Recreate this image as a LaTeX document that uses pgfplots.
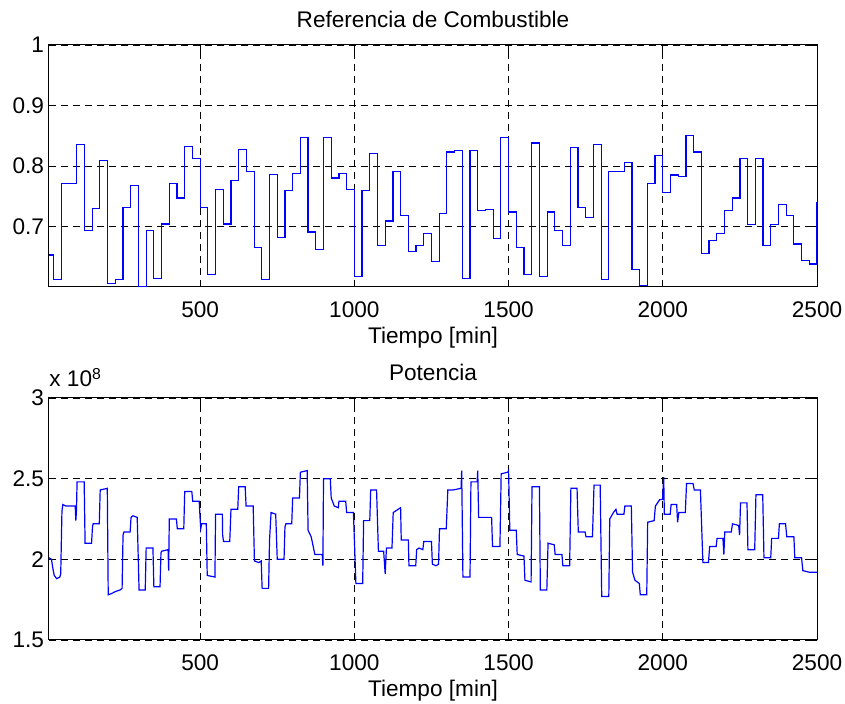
\documentclass[border=0pt]{standalone}
\usepackage{fontspec}
\setmainfont{Liberation Sans}
\usepackage{pgfplots}
\pgfplotsset{compat=1.18}
\definecolor{mblue}{RGB}{0,0,255}

% MATLAB-like subplot look
\pgfplotsset{
  mlab/.style={
    width=384pt, height=121pt, scale only axis,
    xmin=10, xmax=2500,
    xtick={500,1000,...,2500},
    grid=major,
    major grid style={black, line width=0.4pt, dash pattern=on 3.5pt off 2.5pt},
    tick align=inside, major tick length=3.5pt,
    axis line style={black, line width=0.5pt},
    tick style={black, line width=0.4pt},
    /pgf/number format/assume math mode=true,
    /pgf/number format/1000 sep={},
    xlabel={Tiempo [min]},
    xlabel style={at={(axis description cs:0.5,0)}, anchor=center, yshift=-25.5pt},
    xticklabel style={yshift=-4pt},
    yticklabel style={xshift=1pt},
    title style={at={(0.5,1)}, anchor=south, yshift=-1pt},
  }
}

\begin{document}
\begin{tikzpicture}[font=\fontsize{11.3pt}{13pt}\selectfont]
\path[use as bounding box] (-24.5pt,-208.5pt) rectangle (398pt,143.5pt);

\begin{axis}[mlab, at={(0,0)},
  title={Referencia de Combustible},
  ymin=0.6, ymax=1, ytick={0.7,0.8,0.9,1}]
\addplot[mblue, line width=0.6pt, const plot] coordinates {
(10,0.653) (25,0.612) (50,0.771) (100,0.835) (125,0.694) (150,0.730)
(175,0.809) (200,0.606) (225,0.613) (250,0.732) (275,0.768) (300,0.600)
(325,0.694) (350,0.614) (375,0.704) (400,0.771) (425,0.747) (450,0.832)
(475,0.812) (500,0.732) (525,0.620) (550,0.761) (575,0.704) (600,0.776)
(625,0.827) (650,0.791) (675,0.665) (700,0.612) (725,0.786) (750,0.682)
(775,0.759) (800,0.788) (825,0.847) (850,0.691) (875,0.662) (900,0.847)
(925,0.780) (950,0.788) (975,0.761) (1000,0.618) (1025,0.759) (1050,0.821)
(1075,0.668) (1100,0.709) (1125,0.791) (1150,0.718) (1175,0.659) (1200,0.668)
(1225,0.689) (1250,0.642) (1275,0.721) (1300,0.823) (1325,0.826) (1350,0.614)
(1375,0.826) (1400,0.726) (1425,0.728) (1450,0.680) (1475,0.847) (1500,0.724)
(1525,0.665) (1550,0.620) (1575,0.838) (1600,0.618) (1625,0.724) (1650,0.694)
(1675,0.668) (1700,0.830) (1725,0.732) (1750,0.715) (1775,0.835) (1800,0.612)
(1825,0.791) (1875,0.806) (1900,0.629) (1925,0.603) (1950,0.771) (1975,0.817)
(2000,0.756) (2025,0.785) (2050,0.783) (2075,0.850) (2100,0.823) (2125,0.656)
(2150,0.677) (2175,0.688) (2200,0.726) (2225,0.747) (2250,0.812) (2275,0.703)
(2300,0.812) (2325,0.668) (2350,0.703) (2375,0.736) (2400,0.718) (2425,0.671)
(2450,0.644) (2475,0.638) (2499,0.638) (2500,0.741)
};
\end{axis}

\begin{axis}[mlab, at={(0,-176.5pt)}, name=bot,
  title={Potencia},
  ymin=1.5, ymax=3, ytick={1.5,2,2.5,3}]
\addplot[mblue, line width=0.6pt, sharp plot] coordinates {
(10,2.01) (18,2.00) (22,1.95) (27,1.90) (35,1.88) (45,1.89) (48,1.91) (52,2.30)
(55,2.34) (65,2.33) (95,2.33) (97,2.24) (99,2.30) (101,2.48) (124,2.48) (127,2.10)
(148,2.10) (151,2.20) (153,2.22) (173,2.22) (176,2.43) (199,2.44) (202,1.78)
(215,1.79) (225,1.80) (240,1.81) (247,1.82) (250,2.15) (253,2.17) (273,2.17)
(276,2.26) (282,2.27) (296,2.26) (302,1.81) (322,1.81) (325,2.07) (347,2.07)
(350,1.83) (370,1.83) (373,2.04) (375,2.05) (396,2.06) (398,1.93) (400,2.25)
(423,2.25) (426,2.19) (447,2.19) (450,2.42) (473,2.42) (476,2.36) (497,2.36)
(500,2.25) (502,2.19) (505,2.22) (520,2.22) (523,1.90) (548,1.89) (550,2.28)
(572,2.28) (573,2.15) (576,2.11) (596,2.11) (600,2.31) (622,2.31) (625,2.45)
(646,2.45) (649,2.33) (672,2.33) (676,1.99) (690,1.98) (698,1.99) (701,1.82)
(722,1.82) (725,2.12) (730,2.29) (745,2.28) (750,2.00) (772,2.00) (775,2.20)
(778,2.22) (797,2.22) (800,2.38) (822,2.38) (825,2.54) (847,2.55) (850,2.18)
(860,2.14) (872,2.03) (896,2.03) (898,1.96) (900,2.50) (922,2.50) (925,2.38)
(935,2.33) (948,2.32) (950,2.36) (972,2.36) (975,2.29) (997,2.29) (1005,1.85)
(1027,1.85) (1030,2.24) (1050,2.24) (1053,2.43) (1072,2.43) (1078,2.05)
(1095,2.05) (1100,1.91) (1104,2.07) (1122,2.07) (1126,2.29) (1150,2.32)
(1152,2.12) (1175,2.12) (1177,1.96) (1199,1.96) (1202,2.06) (1210,2.07)
(1222,2.06) (1225,2.11) (1250,2.11) (1253,1.97) (1265,1.96) (1273,1.97)
(1276,2.19) (1298,2.19) (1303,2.43) (1320,2.43) (1346,2.44) (1348,2.55)
(1352,1.89) (1375,1.89) (1378,2.48) (1398,2.48) (1400,2.55) (1403,2.26)
(1445,2.26) (1448,2.08) (1472,2.08) (1476,2.53) (1497,2.54) (1500,2.55)
(1504,2.18) (1525,2.18) (1528,2.03) (1550,2.02) (1553,1.87) (1573,1.86)
(1576,2.45) (1600,2.45) (1603,1.81) (1624,1.81) (1628,2.10) (1648,2.09)
(1651,2.03) (1673,2.03) (1676,1.96) (1698,1.96) (1702,2.44) (1722,2.44)
(1726,2.17) (1748,2.17) (1751,2.14) (1772,2.14) (1777,2.46) (1797,2.46)
(1802,1.77) (1825,1.77) (1828,2.25) (1840,2.29) (1848,2.31) (1852,2.28)
(1874,2.28) (1877,2.33) (1898,2.33) (1902,1.92) (1910,1.87) (1924,1.85)
(1927,1.78) (1948,1.78) (1951,2.23) (1972,2.24) (1976,2.33) (1990,2.37)
(1999,2.37) (2003,2.51) (2005,2.28) (2024,2.28) (2027,2.34) (2045,2.34)
(2048,2.23) (2052,2.29) (2073,2.29) (2077,2.47) (2098,2.47) (2102,2.43)
(2122,2.43) (2130,1.98) (2148,1.98) (2152,2.08) (2173,2.08) (2176,2.13)
(2195,2.13) (2198,2.03) (2201,2.17) (2222,2.17) (2226,2.22) (2246,2.21)
(2249,2.15) (2252,2.35) (2273,2.35) (2276,2.06) (2298,2.06) (2302,2.40)
(2324,2.40) (2328,2.01) (2350,2.01) (2353,2.13) (2375,2.13) (2378,2.22)
(2398,2.22) (2402,2.14) (2425,2.14) (2428,2.01) (2450,2.01) (2454,1.93)
(2475,1.92) (2500,1.92)
};
\end{axis}
\node[anchor=base west, inner sep=0pt] at ([yshift=5.5pt]bot.north west) {x 10\textsuperscript{8}};
\end{tikzpicture}
\end{document}
